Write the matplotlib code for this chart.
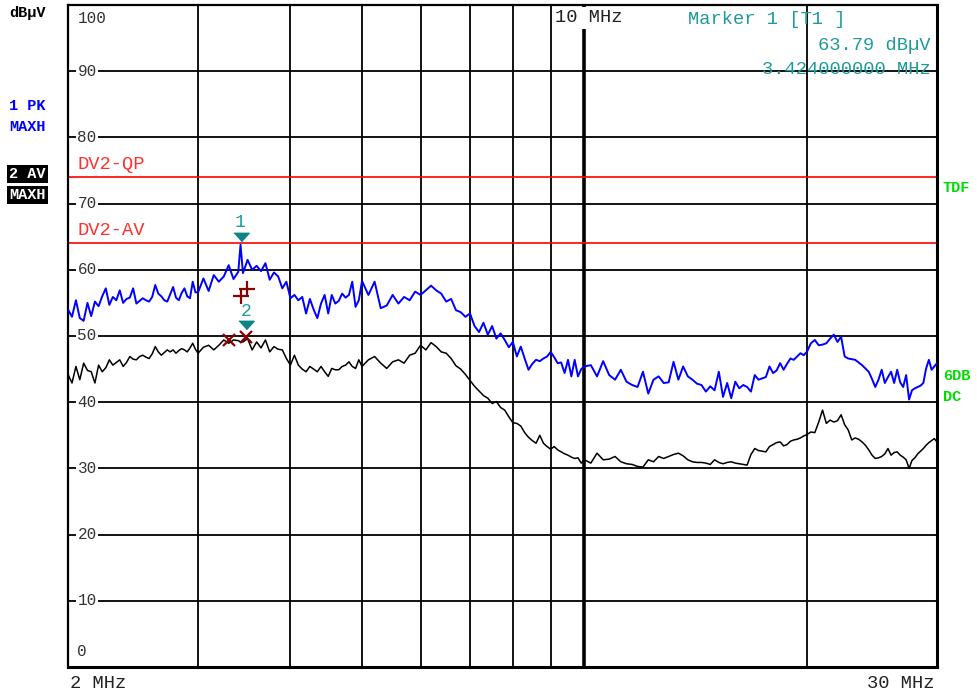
import matplotlib
matplotlib.use("Agg")
import matplotlib.pyplot as plt
from matplotlib.transforms import offset_copy

# sweep frequencies in MHz (shared by both traces)
freq_mhz = [
    2.0, 2.025, 2.05, 2.075, 2.1, 2.125, 2.15, 2.175, 2.2, 2.225,
    2.25, 2.275, 2.3, 2.325, 2.35, 2.375, 2.4, 2.425, 2.45, 2.475,
    2.5, 2.525, 2.55, 2.575, 2.6, 2.625, 2.65, 2.675, 2.7, 2.725,
    2.75, 2.775, 2.8, 2.825, 2.85, 2.875, 2.9, 2.925, 2.95, 2.975,
    3.0, 3.05, 3.1, 3.15, 3.2, 3.25, 3.3, 3.35, 3.4, 3.424,
    3.45, 3.5, 3.55, 3.6, 3.65, 3.7, 3.75, 3.8, 3.85, 3.9,
    3.95, 4.0, 4.05, 4.1, 4.15, 4.2, 4.25, 4.3, 4.35, 4.4,
    4.45, 4.5, 4.55, 4.6, 4.65, 4.7, 4.75, 4.8, 4.85, 4.9, 4.95,
    5.0, 5.1, 5.2, 5.3, 5.4, 5.5, 5.6, 5.7, 5.8, 5.9,
    6.0, 6.1, 6.2, 6.3, 6.4, 6.5, 6.6, 6.7, 6.8, 6.9,
    7.0, 7.1, 7.2, 7.3, 7.4, 7.5, 7.6, 7.7, 7.8, 7.9,
    8.0, 8.1, 8.2, 8.3, 8.4, 8.5, 8.6, 8.7, 8.8, 8.9,
    9.0, 9.1, 9.2, 9.3, 9.4, 9.5, 9.6, 9.7, 9.8, 9.9,
    10.0, 10.2, 10.4, 10.6, 10.8, 11.0, 11.2, 11.4, 11.6, 11.8,
    12.0, 12.2, 12.4, 12.6, 12.8, 13.0, 13.2, 13.4, 13.6, 13.8,
    14.0, 14.2, 14.4, 14.6, 14.8, 15.0, 15.2, 15.4, 15.6, 15.8,
    16.0, 16.2, 16.4, 16.6, 16.8, 17.0, 17.2, 17.4, 17.6, 17.8,
    18.0, 18.2, 18.4, 18.6, 18.8, 19.0, 19.2, 19.4, 19.6, 19.8,
    20.0, 20.25, 20.5, 20.75, 21.0, 21.25, 21.5, 21.75, 22.0, 22.25,
    22.5, 22.75, 23.0, 23.25, 23.5, 23.75, 24.0, 24.25, 24.5, 24.75,
    25.0, 25.25, 25.5, 25.75, 26.0, 26.25, 26.5, 26.75, 27.0, 27.25,
    27.5, 27.75, 28.0, 28.25, 28.5, 28.75, 29.0, 29.25, 29.5, 29.75, 30.0,
]

# trace 1: PK MAXH (dBuV)
peak_dbuv = [
    54.0, 52.9, 55.4, 52.7, 52.3, 55.0, 53.0, 55.2, 54.5, 56.0,
    57.2, 54.7, 55.9, 55.4, 56.9, 55.0, 55.6, 55.8, 57.2, 54.9,
    55.3, 55.7, 55.4, 55.2, 55.9, 57.7, 56.4, 56.0, 55.4, 55.2,
    56.3, 57.4, 55.8, 55.4, 56.5, 57.2, 56.0, 55.7, 58.2, 56.6,
    56.6, 58.7, 56.8, 59.2, 58.2, 59.0, 60.7, 58.6, 59.7, 63.79,
    59.5, 61.5, 60.0, 60.6, 59.8, 61.0, 58.5, 59.6, 59.0, 57.2,
    58.2, 55.7, 56.2, 55.4, 55.9, 53.4, 55.6, 54.0, 52.7, 54.9,
    56.2, 53.4, 56.2, 54.9, 55.3, 56.4, 55.8, 56.2, 58.2, 54.4, 55.4,
    58.3, 56.2, 58.2, 54.2, 54.6, 56.2, 54.9, 55.9, 55.4, 56.7,
    56.2, 56.9, 57.6, 56.9, 56.4, 55.2, 55.6, 53.9, 53.6, 52.9,
    53.4, 51.5, 50.6, 52.0, 50.2, 51.5, 49.6, 50.4, 49.4, 48.3,
    49.1, 46.9, 48.4, 46.6, 44.9, 45.8, 46.4, 46.2, 46.6, 46.9,
    47.6, 46.8, 45.9, 46.0, 44.4, 46.4, 43.9, 46.4, 43.9, 45.0,
    45.4, 45.6, 43.9, 46.2, 44.1, 43.4, 44.9, 43.1, 42.6, 42.3,
    44.6, 41.3, 43.4, 43.9, 42.9, 43.0, 46.1, 43.4, 45.4, 43.9,
    43.4, 42.8, 42.6, 41.6, 42.4, 41.8, 44.6, 40.8, 42.9, 40.6,
    43.1, 42.1, 42.6, 42.3, 41.6, 44.1, 43.4, 43.6, 43.8, 45.4,
    44.4, 44.8, 45.9, 44.9, 45.8, 46.6, 46.4, 46.9, 47.4, 47.1,
    47.6, 48.9, 49.4, 48.6, 48.7, 48.9, 49.6, 50.2, 49.1, 49.9,
    46.9, 46.6, 46.5, 46.4, 46.0, 45.6, 45.1, 44.6, 43.5, 42.3,
    43.4, 44.9, 42.9, 43.8, 44.6, 42.9, 44.9, 43.0, 42.3, 44.1,
    40.4, 41.8, 42.1, 42.3, 42.5, 42.9, 45.1, 46.4, 44.9, 45.4, 45.9,
]

# trace 2: AV MAXH (dBuV)
avg_dbuv = [
    44.2, 42.9, 45.4, 43.4, 45.9, 44.8, 44.6, 42.9, 45.6, 44.6,
    45.2, 46.4, 45.6, 46.0, 46.4, 45.4, 46.0, 46.9, 46.5, 46.4,
    46.9, 47.1, 46.8, 46.6, 47.3, 48.4, 47.6, 47.1, 47.5, 47.9,
    47.6, 47.9, 47.4, 47.8, 48.1, 47.9, 47.6, 48.2, 48.9, 48.0,
    47.4, 48.3, 48.6, 47.9, 48.6, 49.4, 48.9, 49.4, 49.3, 49.1,
    49.1, 49.6, 47.9, 49.1, 48.2, 49.4, 47.6, 48.4, 48.0, 47.9,
    46.6, 45.6, 47.1, 45.6, 45.0, 44.6, 45.4, 45.0, 44.6, 45.4,
    44.6, 43.9, 45.1, 44.9, 44.9, 45.4, 45.6, 46.1, 45.4, 45.1, 46.4,
    45.4, 46.4, 46.9, 45.9, 45.1, 46.1, 46.4, 45.9, 47.1, 47.4,
    48.6, 47.9, 49.0, 48.4, 47.6, 47.4, 46.6, 45.5, 45.0, 44.2,
    43.3, 42.4, 41.7, 41.0, 40.6, 39.8, 40.1, 39.2, 38.8, 37.8,
    36.9, 36.8, 36.4, 35.4, 34.7, 34.2, 33.8, 35.0, 33.8, 33.3,
    32.9, 33.3, 32.8, 32.5, 32.2, 32.0, 31.7, 31.5, 31.6, 30.8,
    31.3, 30.8, 32.3, 31.3, 31.4, 31.8, 31.0, 30.7, 30.6, 30.3,
    30.2, 31.3, 31.0, 31.8, 31.5, 31.8, 32.1, 32.3, 31.9, 31.3,
    31.0, 30.9, 30.9, 30.8, 30.6, 31.3, 30.9, 30.7, 30.9, 31.0,
    30.8, 30.7, 30.6, 30.5, 32.1, 33.0, 32.7, 32.6, 32.5, 33.3,
    33.6, 33.9, 34.0, 33.4, 33.6, 34.1, 34.3, 34.4, 34.6, 34.9,
    35.1, 35.5, 35.4, 37.0, 38.8, 36.8, 37.3, 37.0, 37.2, 38.1,
    36.6, 35.8, 34.3, 34.6, 34.4, 34.0, 33.5, 32.8, 32.0, 31.5,
    31.6, 31.8, 32.2, 33.0, 32.0, 32.4, 32.5, 32.0, 31.7, 31.3,
    30.0, 31.2, 31.6, 32.2, 32.6, 33.0, 33.5, 33.9, 34.2, 34.5, 34.0,
]

limit_names = ["DV2-QP", "DV2-AV"]
limit_levels = [74.0, 64.0]

marker_labels = ["1", "2"]
marker_freq = [3.424, 3.483]
marker_level = [63.79, 50.4]

final_qp_freq = [3.424, 3.497]
final_qp_level = [56.1, 57.1]
final_av_freq = [3.303, 3.483]
final_av_level = [49.4, 49.9]

level_ticks = [10, 20, 30, 40, 50, 60, 70, 80, 90]
freq_grid = [3, 4, 5, 6, 7, 8, 9, 20]

MONO = "Liberation Mono"
TEAL = "#1f9a9a"
W, H = 978, 692


def fxy(x, y):
    return x / W, 1 - y / H


fig = plt.figure(figsize=(W / 100, H / 100), dpi=100)
ax = fig.add_axes([68 / W, (H - 667) / H, 869 / W, 662 / H])
ax.set_xscale("log")
ax.set_xlim(2, 30)
ax.set_ylim(0, 100)
ax.set_xticks([])
ax.set_yticks([])
ax.minorticks_off()
ax.tick_params(which="both", length=0, labelbottom=False, labelleft=False)
for name, sp in ax.spines.items():
    sp.set_linewidth(2.2 if name in ("right", "bottom") else 1.6)

for lv in level_ticks:
    ax.axhline(lv, color="black", lw=1.3, zorder=1)
    ax.text(2.06, lv, str(lv), fontfamily=MONO, fontsize=11.5, color="#333333",
            ha="left", va="center", zorder=3,
            bbox=dict(facecolor="white", edgecolor="none", pad=1.2))
ax.text(2.06, 98, "100", fontfamily=MONO, fontsize=11.5, color="#333333",
        ha="left", va="center")
ax.text(2.06, 2.3, "0", fontfamily=MONO, fontsize=11.5, color="#333333",
        ha="left", va="center")

for f in freq_grid:
    ax.axvline(f, color="black", lw=1.3, zorder=1)
ax.axvline(10, color="black", lw=2.6, zorder=1)
fig.text(*fxy(555, 18), "10 MHz", fontfamily=MONO, fontsize=13.5,
         color="#222222", ha="left", va="center", zorder=4,
         bbox=dict(facecolor="white", edgecolor="none", pad=1.5))

for name, lv in zip(limit_names, limit_levels):
    ax.axhline(lv, color="#ff0000", lw=1.2, zorder=2)
    ax.annotate(name, xy=(2, lv), xytext=(7, 3), textcoords="offset points",
                fontfamily=MONO, fontsize=13.5, color="#ff3030",
                ha="left", va="bottom")

ax.plot(freq_mhz, peak_dbuv, color="#0000ff", lw=1.4, zorder=5)
ax.plot(freq_mhz, avg_dbuv, color="black", lw=1.1, zorder=5)

ax.plot(final_qp_freq, final_qp_level, linestyle="none", marker="+",
        markersize=12, markeredgewidth=1.6, color="#8b0000", zorder=6)
ax.plot(final_av_freq, final_av_level, linestyle="none", marker="x",
        markersize=9, markeredgewidth=1.6, color="#8b0000", zorder=6)

tri = [(-1, 0.55), (1, 0.55), (0, -0.55)]
tri_tr = offset_copy(ax.transData, fig=fig, x=0, y=8, units="dots")
for lab, f, lv in zip(marker_labels, marker_freq, marker_level):
    ax.plot([f], [lv], linestyle="none", marker=tri, markersize=11,
            color="#0b8585", transform=tri_tr, zorder=7)
    ax.annotate(lab, xy=(f, lv), xytext=(0, 16), textcoords="offset points",
                fontfamily=MONO, fontsize=13, color=TEAL,
                ha="center", va="center", zorder=7)

# marker readout
fig.text(*fxy(688, 20), "Marker 1 [T1 ]", fontfamily=MONO, fontsize=13.5,
         color=TEAL, ha="left", va="center")
fig.text(*fxy(931, 45), "63.79 dB\u00b5V", fontfamily=MONO, fontsize=13.5,
         color=TEAL, ha="right", va="center")
fig.text(*fxy(931, 69), "3.424000000 MHz", fontfamily=MONO, fontsize=13.5,
         color=TEAL, ha="right", va="center")

# left side labels
fig.text(*fxy(9, 13), "dB\u00b5V", fontfamily=MONO, fontsize=11,
         fontweight="bold", color="black", ha="left", va="center")
fig.text(*fxy(9, 106), "1 PK", fontfamily=MONO, fontsize=11,
         fontweight="bold", color="#0000ff", ha="left", va="center")
fig.text(*fxy(9, 127), "MAXH", fontfamily=MONO, fontsize=11,
         fontweight="bold", color="#0000ff", ha="left", va="center")
fig.text(*fxy(9, 174), "2 AV", fontfamily=MONO, fontsize=11,
         fontweight="bold", color="white", ha="left", va="center",
         bbox=dict(facecolor="black", edgecolor="none", pad=1.5))
fig.text(*fxy(9, 195), "MAXH", fontfamily=MONO, fontsize=11,
         fontweight="bold", color="white", ha="left", va="center",
         bbox=dict(facecolor="black", edgecolor="none", pad=1.5))

# right side labels
for txt, y in [("TDF", 188), ("6DB", 376), ("DC", 397)]:
    fig.text(*fxy(943, y), txt, fontfamily=MONO, fontsize=11,
             fontweight="bold", color="#00dd00", ha="left", va="center")

# bottom axis labels
fig.text(*fxy(70, 684), "2 MHz", fontfamily=MONO, fontsize=13.5,
         color="#222222", ha="left", va="center")
fig.text(*fxy(935, 684), "30 MHz", fontfamily=MONO, fontsize=13.5,
         color="#222222", ha="right", va="center")

fig.savefig("out.png", dpi=100)
